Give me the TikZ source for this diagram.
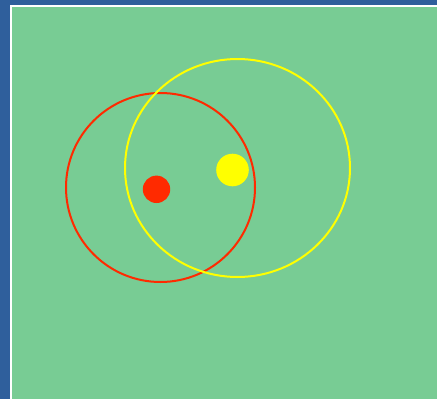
\documentclass[tikz,border=0pt]{standalone}
\definecolor{bgblue}{HTML}{2F5F9C}
\definecolor{panel}{HTML}{78CC94}
\definecolor{rd}{HTML}{FF2A00}
\definecolor{yl}{HTML}{FFFF00}
\begin{document}
\begin{tikzpicture}[x=1pt,y=-1pt,
  ring/.style={line width=2pt}]
\useasboundingbox (0,0) rectangle (437,399);
\fill[bgblue] (0,0) rectangle (437,399);
\fill[white] (10,5) rectangle (437,399);
\fill[panel] (12,7) rectangle (437,399);
\draw[ring,rd] (160.5,187.5) ellipse [x radius=94.5,y radius=94.5];
\draw[ring,yl] (237.5,168) ellipse [x radius=112.5,y radius=109];
\fill[rd] (156.5,189.3) circle [radius=13.7];
\fill[yl] (232.5,170) circle [radius=16.3];
\end{tikzpicture}
\end{document}
